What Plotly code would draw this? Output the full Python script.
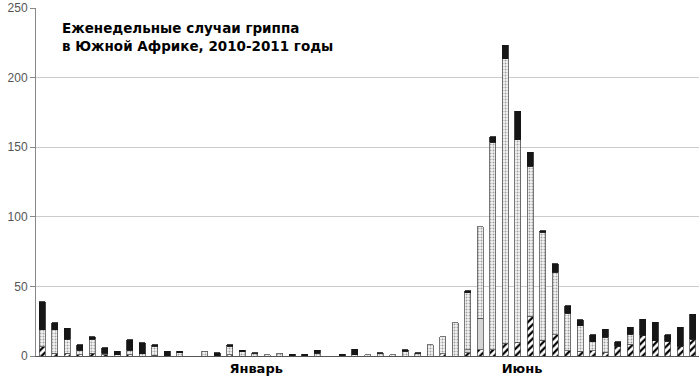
import plotly.graph_objects as go

weeks = list(range(53))

hatched = [6.5, 2, 2, 1, 2, 1, 0, 1, 0, 0.5, 0, 0, 0, 0, 0, 1, 0,
           0, 0, 0, 0, 0, 0, 0, 0, 0, 0, 0, 0, 0, 0, 0, 1.5, 0,
           2.5, 4.5, 4.5, 9.3, 10, 28.5, 11.2, 15.3, 3.8, 3.3, 3.8, 2.6,
           6.9, 8.6, 15, 11, 10.5, 6.9, 12.2]

gray = [0] * 34 + [2, 22.8] + [0] * 17

dotted = [12.5, 17, 10, 3, 10, 1, 1, 3, 1.5, 6.5, 0, 2.5, 0, 3.3, 0, 6, 3,
          2, 1, 2, 0, 0, 2, 0, 0, 1, 1, 2, 1, 3.5, 2, 8, 12.5, 24,
          41, 65.7, 149, 204.3, 145.4, 107.8, 77.6, 45, 26.8, 18.5, 6.5, 11,
          0, 7.2, 0, 0, 0, 0, 0]

black = [20, 5, 8, 4, 2, 4, 2.5, 7.5, 8, 1, 3.3, 0.8, 0, 0, 2.2, 1, 1,
         0.3, 0, 0, 1.2, 1.2, 2, 0, 1.2, 4, 0, 0.3, 0, 1, 0.3, 0, 0, 0,
         1.5, 0, 4.1, 9.5, 20.6, 10, 1.2, 5.8, 5.5, 4.3, 4.8, 5.8,
         3.4, 4.8, 11.3, 13.2, 4.6, 13.7, 17.9]

tick_labels = ["Январь", "Июнь"]
tick_weeks = [17.1, 38.35]

title_lines = ["Еженедельные случаи гриппа", "в Южной Африке, 2010-2011 годы"]


def nz(vals):
    return [v if v else None for v in vals]


outline = dict(color="#555555", width=0.8)

fig = go.Figure()
fig.add_trace(go.Bar(
    x=weeks, y=nz(hatched), name="hatched",
    marker=dict(color="white", line=outline,
                pattern=dict(shape="/", fgcolor="black", bgcolor="white",
                             size=5, solidity=0.45, fillmode="replace")),
))
fig.add_trace(go.Bar(
    x=weeks, y=nz(gray), name="gray",
    marker=dict(color="#d4d4d4", line=outline),
))
fig.add_trace(go.Bar(
    x=weeks, y=nz(dotted), name="dotted",
    marker=dict(color="#eeeeee", line=outline,
                pattern=dict(shape=".", fgcolor="#a0a0a0", bgcolor="#f6f6f6",
                             size=3, solidity=0.35, fillmode="replace")),
))
fig.add_trace(go.Bar(
    x=weeks, y=nz(black), name="black",
    marker=dict(color="#161616", line=dict(color="#161616", width=0.8)),
))

fig.add_annotation(
    xref="paper", yref="paper", x=0.036, y=0.972,
    xanchor="left", yanchor="top", align="left", showarrow=False,
    text="<b>" + "</b><br><b>".join(title_lines) + "</b>",
    font=dict(family="DejaVu Sans", size=13.5, color="black"),
)

fig.update_layout(
    width=700, height=381,
    margin=dict(l=36, r=1, t=8, b=25),
    barmode="stack", bargap=0.52,
    showlegend=False,
    plot_bgcolor="white", paper_bgcolor="white",
    font=dict(family="Liberation Sans, Arial", size=12, color="#555555"),
)

fig.update_xaxes(
    range=[-0.5, 52.5],
    tickmode="array", tickvals=tick_weeks,
    ticktext=["<b>" + t + "</b>" for t in tick_labels],
    tickfont=dict(family="DejaVu Sans", size=13, color="black"),
    ticks="", showgrid=False, zeroline=False,
    showline=True, linecolor="#555555", linewidth=1,
)
fig.update_yaxes(
    range=[0, 250], tickvals=[0, 50, 100, 150, 200, 250],
    showgrid=True, gridcolor="#cccccc", gridwidth=1,
    zeroline=False, showline=True, linecolor="#888888", linewidth=1,
    ticks="outside", ticklen=5, tickcolor="#888888",
    tickfont=dict(family="Liberation Sans, Arial", size=12, color="#555555"),
)

fig.write_html("out.html")
